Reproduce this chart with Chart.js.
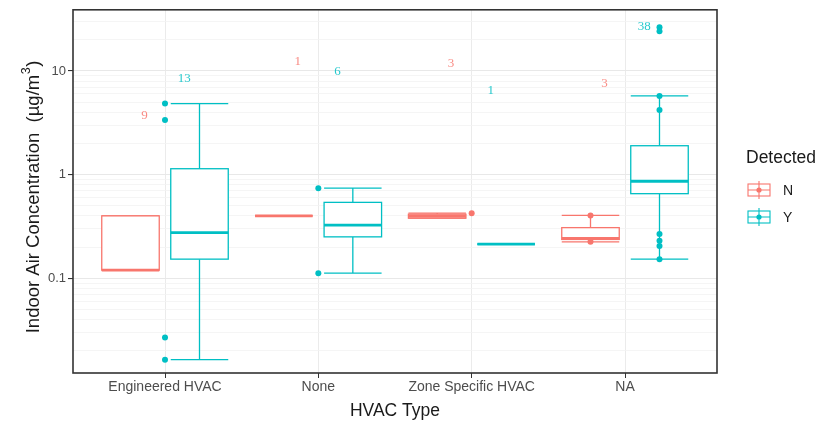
<!DOCTYPE html>
<html>
<head>
<meta charset="utf-8">
<script src="https://cdn.jsdelivr.net/npm/chart.js@4.4.1/dist/chart.umd.min.js"></script>
<style>
  html, body { margin: 0; padding: 0; background: #fff; }
  #wrap { width: 825px; height: 426px; }
</style>
</head>
<body>
<div id="wrap"><canvas id="chart" width="825" height="426"></canvas></div>
<script>
// ─── DATA ────────────────────────────────────────────────────────────────
var categories = ['Engineered HVAC', 'None', 'Zone Specific HVAC', 'NA'];
var groups = ['N', 'Y'];
var yTickLabels = [0.1, 1, 10];

// box stats per category, Detected = N
var nMin = [0.12, 0.40, 0.38, 0.225];
var nQ1  = [0.12, 0.40, 0.38, 0.237];
var nMed = [0.12, 0.40, 0.395, 0.242];
var nQ3  = [0.40, 0.40, 0.415, 0.308];
var nMax = [0.40, 0.40, 0.425, 0.404];

// box stats per category, Detected = Y
var yMin = [0.0164, 0.112, 0.214, 0.153];
var yQ1  = [0.153, 0.251, 0.214, 0.655];
var yMed = [0.276, 0.325, 0.214, 0.863];
var yQ3  = [1.14, 0.54, 0.214, 1.90];
var yMax = [4.85, 0.74, 0.214, 5.74];

// individual points (category index + value)
var nPointCat = [2, 3, 3];
var nPointVal = [0.425, 0.404, 0.225];
var yPointCat = [0, 0, 0, 0, 1, 1, 3, 3, 3, 3, 3, 3, 3, 3];
var yPointVal = [4.85, 3.36, 0.0268, 0.0164, 0.74, 0.112, 26.4, 24.2, 5.74, 4.19, 0.267, 0.23, 0.205, 0.153];
var dodgedPointCats = [3];   // only here are the points shifted onto their box

// sample counts and the value at which each label sits
var nCounts = [9, 1, 3, 3];
var yCounts = [13, 6, 1, 38];
var nLabelY = [3.7, 12.4, 11.7, 7.5];
var yLabelY = [8.4, 9.8, 6.5, 27];

// ─── STYLE ───────────────────────────────────────────────────────────────
var RED = '#F8766D';
var TEAL = '#00BFC4';
var DODGE = 0.225;     // offset of each box from the category centre
var BOX_W = 0.375;     // box width in category units
var SANS = '"Liberation Sans", Arial, sans-serif';

function isMajor(v) {
    return yTickLabels.some(function (t) { return Math.abs(t - v) < 1e-9; });
}

function buildPoints(cats, vals, side) {
    return cats.map(function (c, i) {
        var x = dodgedPointCats.indexOf(c) >= 0 ? c + side * DODGE : c;
        return { x: x, y: vals[i] };
    });
}

var boxSets = [
    { color: RED, off: -DODGE, min: nMin, q1: nQ1, med: nMed, q3: nQ3, max: nMax },
    { color: TEAL, off: DODGE, min: yMin, q1: yQ1, med: yMed, q3: yQ3, max: yMax }
];

// ─── BOXPLOT PLUGIN ──────────────────────────────────────────────────────
var boxPlugin = {
    id: 'boxes',
    beforeDatasetsDraw: function (chart) {
        var ctx = chart.ctx, xs = chart.scales.x, ys = chart.scales.y;
        ctx.save();
        boxSets.forEach(function (b) {
            for (var i = 0; i < categories.length; i++) {
                var cx = xs.getPixelForValue(i + b.off);
                var x0 = xs.getPixelForValue(i + b.off - BOX_W / 2);
                var x1 = xs.getPixelForValue(i + b.off + BOX_W / 2);
                var pMin = ys.getPixelForValue(b.min[i]);
                var pQ1 = ys.getPixelForValue(b.q1[i]);
                var pMed = ys.getPixelForValue(b.med[i]);
                var pQ3 = ys.getPixelForValue(b.q3[i]);
                var pMax = ys.getPixelForValue(b.max[i]);
                ctx.strokeStyle = b.color;
                ctx.lineWidth = 1.3;
                // whiskers + caps
                ctx.beginPath();
                ctx.moveTo(cx, pMin); ctx.lineTo(cx, pQ1);
                ctx.moveTo(cx, pQ3); ctx.lineTo(cx, pMax);
                ctx.moveTo(x0, pMin); ctx.lineTo(x1, pMin);
                ctx.moveTo(x0, pMax); ctx.lineTo(x1, pMax);
                ctx.stroke();
                // box
                ctx.fillStyle = '#fff';
                ctx.fillRect(x0, pQ3, x1 - x0, pQ1 - pQ3);
                ctx.strokeRect(x0, pQ3, x1 - x0, pQ1 - pQ3);
                // median
                ctx.lineWidth = 2.8;
                ctx.beginPath();
                ctx.moveTo(x0, pMed); ctx.lineTo(x1, pMed);
                ctx.stroke();
            }
        });
        ctx.restore();
    },
    afterDatasetsDraw: function (chart) {
        var ctx = chart.ctx, xs = chart.scales.x, ys = chart.scales.y;
        ctx.save();
        ctx.font = '13px "Liberation Serif", serif';
        ctx.textAlign = 'center';
        ctx.textBaseline = 'middle';
        for (var i = 0; i < categories.length; i++) {
            ctx.fillStyle = 'rgba(248,118,109,0.85)';
            ctx.fillText(String(nCounts[i]), xs.getPixelForValue(i - 0.134), ys.getPixelForValue(nLabelY[i]));
            ctx.fillStyle = 'rgba(0,191,196,0.85)';
            ctx.fillText(String(yCounts[i]), xs.getPixelForValue(i + 0.125), ys.getPixelForValue(yLabelY[i]));
        }
        ctx.restore();
    },
    afterDraw: function (chart) {
        var ctx = chart.ctx, a = chart.chartArea;
        ctx.save();
        // panel border
        ctx.strokeStyle = '#333333';
        ctx.lineWidth = 1.6;
        ctx.strokeRect(a.left, a.top, a.right - a.left, a.bottom - a.top);

        // x title
        ctx.fillStyle = '#1a1a1a';
        ctx.font = '17.5px ' + SANS;
        ctx.textAlign = 'center';
        ctx.textBaseline = 'middle';
        ctx.fillText('HVAC Type', (a.left + a.right) / 2, 411);

        // y title with superscript
        var main = 'Indoor Air Concentration  (\u00B5g/m', sup = '3', tail = ')';
        var mainFont = '18.5px ' + SANS, supFont = '12.5px ' + SANS;
        ctx.font = mainFont; var wMain = ctx.measureText(main).width, wTail = ctx.measureText(tail).width;
        ctx.font = supFont; var wSup = ctx.measureText(sup).width + 1;
        var total = wMain + wSup + wTail;
        ctx.save();
        ctx.translate(39, 197);
        ctx.rotate(-Math.PI / 2);
        ctx.textAlign = 'left';
        ctx.textBaseline = 'alphabetic';
        var sx = -total / 2;
        ctx.font = mainFont; ctx.fillText(main, sx, 0);
        ctx.font = supFont; ctx.fillText(sup, sx + wMain + 0.5, -9);
        ctx.font = mainFont; ctx.fillText(tail, sx + wMain + wSup, 0);
        ctx.restore();

        // legend
        ctx.textAlign = 'left';
        ctx.textBaseline = 'middle';
        ctx.font = '17.5px ' + SANS;
        ctx.fillText('Detected', 746, 158);
        ctx.font = '14px ' + SANS;
        var colors = [RED, TEAL];
        groups.forEach(function (g, k) {
            var cx = 759, cy = 190 + k * 27;
            ctx.strokeStyle = colors[k];
            ctx.lineWidth = 1.1;
            ctx.fillStyle = '#fff';
            ctx.fillRect(cx - 11, cy - 6, 22, 12);
            ctx.strokeRect(cx - 11, cy - 6, 22, 12);
            ctx.beginPath();
            ctx.moveTo(cx - 11, cy); ctx.lineTo(cx + 11, cy);
            ctx.moveTo(cx, cy - 9); ctx.lineTo(cx, cy + 9);
            ctx.stroke();
            ctx.fillStyle = colors[k];
            ctx.beginPath();
            ctx.arc(cx, cy, 2.6, 0, Math.PI * 2);
            ctx.fill();
            ctx.fillStyle = '#1a1a1a';
            ctx.fillText(g, 783, cy + 1);
        });
        ctx.restore();
    }
};

// ─── CHART ───────────────────────────────────────────────────────────────
var gridValues = [];
[-2, -1, 0, 1].forEach(function (e) {
    for (var s = 1; s <= 9; s++) gridValues.push(+(s * Math.pow(10, e)).toPrecision(3));
});

new Chart(document.getElementById('chart').getContext('2d'), {
    type: 'scatter',
    data: {
        datasets: [
            { label: 'N', data: buildPoints(nPointCat, nPointVal, -1), backgroundColor: RED, borderWidth: 0, pointRadius: 3, pointHoverRadius: 3 },
            { label: 'Y', data: buildPoints(yPointCat, yPointVal, 1), backgroundColor: TEAL, borderWidth: 0, pointRadius: 3, pointHoverRadius: 3 }
        ]
    },
    options: {
        responsive: false,
        animation: false,
        layout: { padding: { top: 5, right: 108, bottom: 0, left: 0 } },
        plugins: { legend: { display: false }, tooltip: { enabled: false } },
        scales: {
            x: {
                type: 'linear', min: -0.6, max: 3.6,
                afterBuildTicks: function (s) {
                    s.ticks = categories.map(function (c, i) { return { value: i }; });
                },
                afterFit: function (s) { s.height = 53; },
                ticks: {
                    color: '#4d4d4d', padding: 1, autoSkip: false, maxRotation: 0,
                    font: { family: SANS, size: 14 },
                    callback: function (v) { return categories[v]; }
                },
                grid: { color: '#ebebeb', lineWidth: 1, tickLength: 5, tickColor: '#333333' },
                border: { display: false }
            },
            y: {
                type: 'logarithmic', min: 0.0122, max: 38.9,
                afterBuildTicks: function (s) {
                    s.ticks = gridValues.filter(function (v) { return v >= s.min && v <= s.max; })
                        .map(function (v) { return { value: v, major: isMajor(v) }; });
                },
                afterFit: function (s) { s.width = 73; },
                ticks: {
                    color: '#4d4d4d', padding: 2, autoSkip: false,
                    font: { family: SANS, size: 13 },
                    callback: function (v) { return isMajor(v) ? String(v) : ''; }
                },
                grid: {
                    color: function (c) { return c.tick && isMajor(c.tick.value) ? '#e8e8e8' : '#f3f3f3'; },
                    lineWidth: function (c) { return c.tick && isMajor(c.tick.value) ? 1.1 : 0.8; },
                    tickLength: 5,
                    tickColor: function (c) { return c.tick && isMajor(c.tick.value) ? '#333333' : 'rgba(0,0,0,0)'; }
                },
                border: { display: false }
            }
        }
    },
    plugins: [boxPlugin]
});
</script>
</body>
</html>
